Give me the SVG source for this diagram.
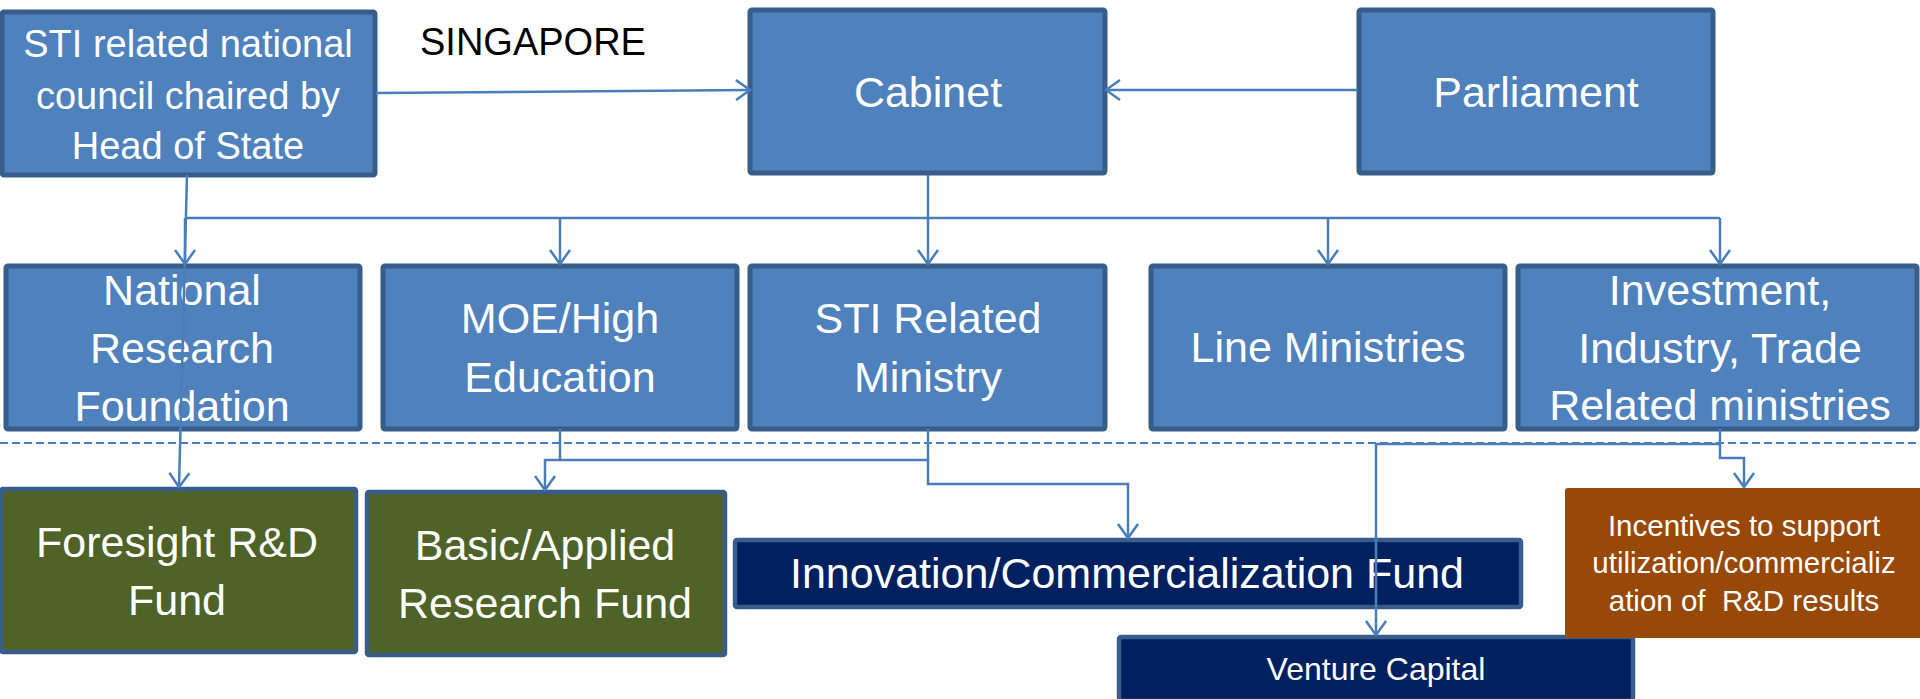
<svg xmlns="http://www.w3.org/2000/svg" width="1920" height="699" viewBox="0 0 1920 699">
<style>
.blue{fill:#4F81BD;stroke:#385D8A;stroke-width:5}
.olive{fill:#4F6228;stroke:#385D8A;stroke-width:4.5}
.navy{fill:#002060;stroke:#385D8A;stroke-width:4.5}
.brown{fill:#984807;stroke:#984807;stroke-width:2}
text{font-family:"Liberation Sans",Arial,sans-serif;fill:#FFFFFF;text-anchor:middle}
.t38{font-size:38px}
.t43{font-size:43px}
.t32{font-size:32px}
.t29{font-size:29.5px}
.conn{fill:none;stroke:#4A7EBB;stroke-width:2.5}
.dash{fill:none;stroke:#4A7EBB;stroke-width:2;stroke-dasharray:8 4}
</style>
<defs>
<marker id="arr" markerUnits="userSpaceOnUse" markerWidth="30" markerHeight="30" refX="14" refY="10" orient="auto" overflow="visible">
<path d="M0,0 L14,10 L0,20" fill="none" stroke="#4A7EBB" stroke-width="2.5"/>
</marker>
</defs>
<rect width="1920" height="699" fill="#FFFFFF"/>
<g id="singapore-label"><text x="420" y="55" style="font-size:38px;fill:#000000;text-anchor:start">SINGAPORE</text></g>
<g id="council"><rect class="blue" x="2" y="12" width="373" height="163" rx="2"/>
<text class="t38" x="188" y="57">STI related national</text>
<text class="t38" x="188" y="109">council chaired by</text>
<text class="t38" x="188" y="159">Head of State</text></g>
<g id="cabinet"><rect class="blue" x="750" y="10" width="355" height="163" rx="2"/>
<text class="t43" x="928" y="107">Cabinet</text></g>
<g id="parliament"><rect class="blue" x="1359" y="10" width="354" height="163" rx="2"/>
<text class="t43" x="1536" y="107">Parliament</text></g>
<g id="nrf"><rect class="blue" x="6" y="266" width="354" height="163" rx="2"/>
<text class="t43" x="182" y="305">National</text>
<text class="t43" x="182" y="363">Research</text>
<text class="t43" x="182" y="421">Foundation</text></g>
<g id="moe"><rect class="blue" x="383" y="266" width="354" height="163" rx="2"/>
<text class="t43" x="560" y="333">MOE/High</text>
<text class="t43" x="560" y="392">Education</text></g>
<g id="sti-ministry"><rect class="blue" x="750" y="266" width="355" height="163" rx="2"/>
<text class="t43" x="928" y="333">STI Related</text>
<text class="t43" x="928" y="392">Ministry</text></g>
<g id="line-ministries"><rect class="blue" x="1151" y="266" width="354" height="163" rx="2"/>
<text class="t43" x="1328" y="362">Line Ministries</text></g>
<g id="investment"><rect class="blue" x="1518" y="266" width="399" height="163" rx="2"/>
<text class="t43" x="1720" y="305">Investment,</text>
<text class="t43" x="1720" y="363">Industry, Trade</text>
<text class="t43" x="1720" y="420">Related ministries</text></g>
<g id="divider"><line class="dash" x1="0" y1="443" x2="1920" y2="443"/></g>
<g id="foresight"><rect class="olive" x="1" y="489" width="355" height="163" rx="2"/>
<text class="t43" x="177" y="557">Foresight R&amp;D</text>
<text class="t43" x="177" y="615">Fund</text></g>
<g id="basic-applied"><rect class="olive" x="367" y="492" width="358" height="163" rx="2"/>
<text class="t43" x="545" y="560">Basic/Applied</text>
<text class="t43" x="545" y="618">Research Fund</text></g>
<g id="innovation"><rect class="navy" x="735" y="540" width="786" height="67" rx="2"/>
<text class="t43" x="1127" y="588">Innovation/Commercialization Fund</text></g>
<g id="venture"><rect class="navy" x="1119" y="637" width="514" height="64" rx="2"/>
<text class="t32" x="1376" y="680">Venture Capital</text></g>
<g id="incentives"><rect class="brown" x="1566" y="489" width="356" height="148" rx="2"/>
<text class="t29" x="1744" y="536">Incentives to support</text>
<text class="t29" x="1744" y="573">utilization/commercializ</text>
<text class="t29" x="1744" y="611" style="white-space:pre">ation of  R&amp;D results</text></g>
<g id="connectors">
<line class="conn" x1="376" y1="93" x2="750" y2="90" marker-end="url(#arr)"/>
<line class="conn" x1="1358" y1="90" x2="1106" y2="90" marker-end="url(#arr)"/>
<line class="conn" x1="928" y1="175" x2="928" y2="218"/>
<line class="conn" x1="185" y1="218" x2="1720" y2="218"/>
<line class="conn" x1="185" y1="218" x2="185" y2="264" marker-end="url(#arr)"/>
<line class="conn" x1="560" y1="218" x2="560" y2="264" marker-end="url(#arr)"/>
<line class="conn" x1="928" y1="218" x2="928" y2="264" marker-end="url(#arr)"/>
<line class="conn" x1="1328" y1="218" x2="1328" y2="264" marker-end="url(#arr)"/>
<line class="conn" x1="1720" y1="218" x2="1720" y2="264" marker-end="url(#arr)"/>
<line class="conn" x1="187" y1="175" x2="179" y2="487" marker-end="url(#arr)"/>
<polyline class="conn" points="560,429 560,460"/>
<polyline class="conn" points="928,429 928,460 545,460 545,490" marker-end="url(#arr)"/>
<polyline class="conn" points="928,460 928,484 1128,484 1128,538" marker-end="url(#arr)"/>
<polyline class="conn" points="1720,429 1720,458 1744,458 1744,487" marker-end="url(#arr)"/>
<polyline class="conn" points="1720,444 1376,444 1376,635" marker-end="url(#arr)"/>
</g>
</svg>
